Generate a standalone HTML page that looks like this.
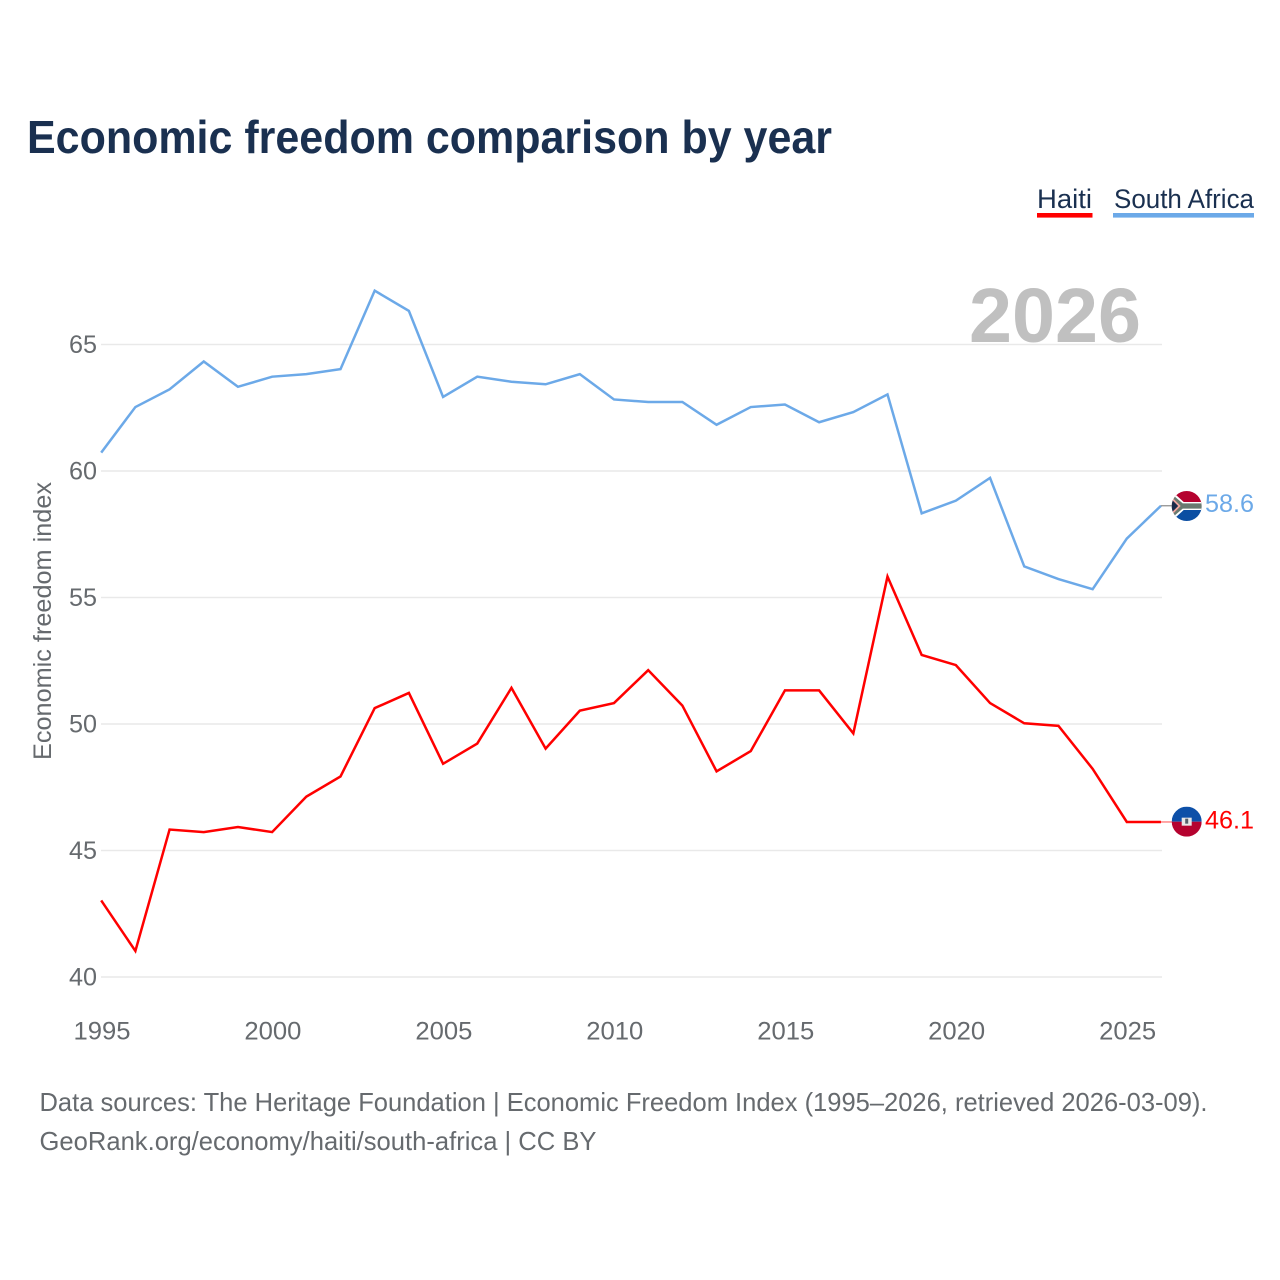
<!DOCTYPE html>
<html lang="en">
<head>
<meta charset="utf-8">
<title>Economic freedom comparison by year</title>
<style>
html,body{margin:0;padding:0;background:#fff;}
svg{display:block;font-family:"Liberation Sans",sans-serif;}
</style>
</head>
<body>
<svg id="chart" xmlns="http://www.w3.org/2000/svg" width="1280" height="1280" viewBox="0 0 1280 1280">
  <defs>
    <clipPath id="flag-clip"><circle cx="0" cy="0" r="15"/></clipPath>
  </defs>
  <rect x="0" y="0" width="1280" height="1280" fill="#ffffff"/>
  <text x="27" y="153" font-size="46" font-weight="700" fill="#1a3050" textLength="805" lengthAdjust="spacingAndGlyphs">Economic freedom comparison by year</text>

  <g>
    <g>
      <text x="1037" y="208" font-size="27" fill="#1a3050" textLength="55" lengthAdjust="spacingAndGlyphs">Haiti</text>
      <rect x="1037" y="213" width="55.5" height="4.6" fill="#ff0000"/>
    </g>
    <g>
      <text x="1114" y="208" font-size="27" fill="#1a3050" textLength="140" lengthAdjust="spacingAndGlyphs">South Africa</text>
      <rect x="1113" y="213" width="141" height="4.6" fill="#6ca9e8"/>
    </g>
  </g>

  <text id="year-label" x="1141" y="342" font-size="77" font-weight="700" fill="#c0c0c0" text-anchor="end" textLength="172" lengthAdjust="spacingAndGlyphs"></text>
  <g id="grid"></g>
  <g id="y-axis"></g>
  <g id="x-axis"></g>
  <text transform="translate(51 621) rotate(-90)" font-size="25" fill="#666a6e" text-anchor="middle" textLength="278" lengthAdjust="spacingAndGlyphs">Economic freedom index</text>
  <g id="series"></g>

  <g id="flag-south-africa">
    <g clip-path="url(#flag-clip)">
      <rect x="-15" y="-15" width="30" height="15" fill="#b5022f"/>
      <rect x="-15" y="0" width="30" height="15" fill="#0b4ea2"/>
      <path d="M-15,-15 L-3,-4 L15,-4 L15,4 L-3,4 L-15,15 Z" fill="#ffffff"/>
      <path d="M-15,-12 L-4,-2.6 L15,-2.6 L15,2.6 L-4,2.6 L-15,12 Z" fill="#6a7a70"/>
      <path d="M-15,-9 L-6,0 L-15,9 Z" fill="#f2a7a0"/>
      <path d="M-15,-6.5 L-8.5,0 L-15,6.5 Z" fill="#1a2a4a"/>
    </g>
  </g>
  <g id="flag-haiti">
    <g clip-path="url(#flag-clip)">
      <rect x="-15" y="-15" width="30" height="15" fill="#0d50a8"/>
      <rect x="-15" y="0" width="30" height="15" fill="#b5022f"/>
      <rect x="-5" y="-4" width="10" height="8" fill="#e8e8e8"/>
      <rect x="-1.5" y="-3" width="3" height="5" fill="#55606a"/>
    </g>
  </g>

  <g>
    <text x="39.5" y="1111" font-size="26" fill="#666a6e" textLength="1168" lengthAdjust="spacingAndGlyphs">Data sources: The Heritage Foundation | Economic Freedom Index (1995–2026, retrieved 2026-03-09).</text>
    <text x="39.5" y="1150" font-size="26" fill="#666a6e" textLength="557" lengthAdjust="spacingAndGlyphs">GeoRank.org/economy/haiti/south-africa | CC BY</text>
  </g>
</svg>
<script>
const years = [1995,1996,1997,1998,1999,2000,2001,2002,2003,2004,2005,2006,2007,2008,2009,2010,2011,2012,2013,2014,2015,2016,2017,2018,2019,2020,2021,2022,2023,2024,2025,2026];
const haitiValues = [43.0,41.0,45.8,45.7,45.9,45.7,47.1,47.9,50.6,51.2,48.4,49.2,51.4,49.0,50.5,50.8,52.1,50.7,48.1,48.9,51.3,51.3,49.6,55.8,52.7,52.3,50.8,50.0,49.9,48.2,46.1,46.1];
const southAfricaValues = [60.7,62.5,63.2,64.3,63.3,63.7,63.8,64.0,67.1,66.3,62.9,63.7,63.5,63.4,63.8,62.8,62.7,62.7,61.8,62.5,62.6,61.9,62.3,63.0,58.3,58.8,59.7,56.2,55.7,55.3,57.3,58.6];
const yTicks = [40,45,50,55,60,65];
const xTicks = [1995,2000,2005,2010,2015,2020,2025];

const NS = 'http://www.w3.org/2000/svg';
function xScale(year) { return 102 + (year - 1995) * (1161.8 - 102) / 31; }
function yScale(value) { return 977 - (value - 40) * (977 - 344.5) / 25; }

function make(tag, parent, attrs, text) {
  const el = document.createElementNS(NS, tag);
  for (const k in attrs) el.setAttribute(k, attrs[k]);
  if (text !== undefined) el.textContent = text;
  parent.appendChild(el);
  return el;
}

const gridGroup = document.getElementById('grid');
const yAxisGroup = document.getElementById('y-axis');
const xAxisGroup = document.getElementById('x-axis');
const seriesGroup = document.getElementById('series');
const chart = document.getElementById('chart');

yTicks.forEach(function (t) {
  const line = make('line', gridGroup, {x1: 101, x2: 1162, y1: yScale(t), y2: yScale(t), stroke: '#e9e9e9', 'stroke-width': 1.6});
  
  
  const label = make('text', yAxisGroup, {x: 97, y: yScale(t) + 8.3, 'font-size': 25, fill: '#666a6e', 'text-anchor': 'end', textLength: 28, lengthAdjust: 'spacingAndGlyphs'}, String(t));
  
  
});

xTicks.forEach(function (t) {
  const label = make('text', xAxisGroup, {x: xScale(t), y: 1039.5, 'font-size': 25, fill: '#666a6e', 'text-anchor': 'middle', textLength: 57, lengthAdjust: 'spacingAndGlyphs'}, String(t));
  
  
});

function linePath(values) {
  return values.map(function (v, i) {
    return (i ? 'L' : 'M') + (xScale(years[i]) - 0.8).toFixed(2) + ',' + (yScale(v) - 0.7).toFixed(2);
  }).join(' ');
}

const lastYear = years[years.length - 1];
document.getElementById('year-label').textContent = String(lastYear);

const southAfricaLine = make('path', seriesGroup, {d: linePath(southAfricaValues), fill: 'none', stroke: '#6ca9e8', 'stroke-width': 2.5, 'stroke-linejoin': 'miter'});



const haitiLine = make('path', seriesGroup, {d: linePath(haitiValues), fill: 'none', stroke: '#ff0000', 'stroke-width': 2.5, 'stroke-linejoin': 'miter'});



const saLast = southAfricaValues[southAfricaValues.length - 1];
const haitiLast = haitiValues[haitiValues.length - 1];

const saConnector = make('line', seriesGroup, {x1: xScale(lastYear) - 1, x2: 1172, y1: yScale(saLast) - 0.7, y2: yScale(saLast) - 0.7, stroke: '#9a9a9a', 'stroke-width': 1.4});



const haitiConnector = make('line', seriesGroup, {x1: xScale(lastYear) - 1, x2: 1172, y1: yScale(haitiLast) - 0.7, y2: yScale(haitiLast) - 0.7, stroke: '#ff8080', 'stroke-width': 1.4});



document.getElementById('flag-south-africa').setAttribute('transform', 'translate(1186.7 ' + (yScale(saLast) - 0.4) + ')');
document.getElementById('flag-haiti').setAttribute('transform', 'translate(1186.7 ' + (yScale(haitiLast) - 1) + ')');

const saValue = make('text', chart, {x: 1254, y: yScale(saLast) + 5.4, 'font-size': 25, fill: '#6ca9e8', 'text-anchor': 'end', textLength: 49, lengthAdjust: 'spacingAndGlyphs'}, saLast.toFixed(1));



const haitiValue = make('text', chart, {x: 1254, y: yScale(haitiLast) + 5.6, 'font-size': 25, fill: '#ff0000', 'text-anchor': 'end', textLength: 49, lengthAdjust: 'spacingAndGlyphs'}, haitiLast.toFixed(1));


</script>
</body>
</html>
